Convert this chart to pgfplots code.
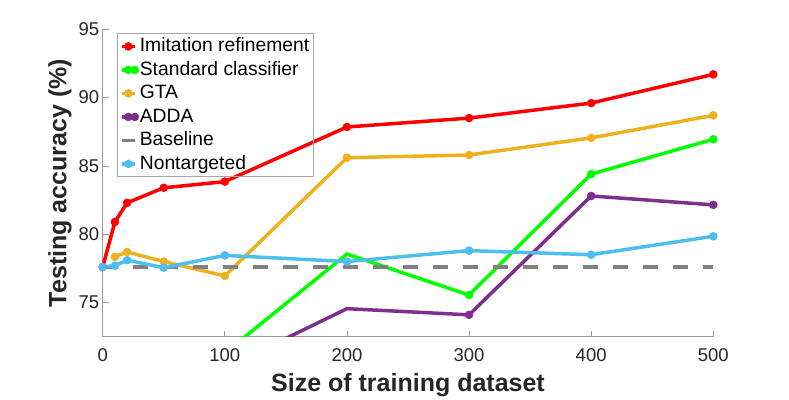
\documentclass[border=0pt]{standalone}
\usepackage{fontspec}
\setmainfont{Liberation Sans}
\usepackage{pgfplots}
\pgfplotsset{compat=1.18}
\definecolor{mred}{rgb}{1,0,0}
\definecolor{mgreen}{rgb}{0,1,0}
\definecolor{mgta}{RGB}{237,177,32}
\definecolor{madda}{RGB}{126,47,142}
\definecolor{mbase}{RGB}{128,128,128}
\definecolor{mcyan}{RGB}{77,190,238}
\definecolor{txt}{RGB}{38,38,38}
\begin{document}
\begin{tikzpicture}
\begin{axis}[
  scale only axis,
  width=610.6bp, height=307.4bp,
  xmin=0, xmax=500, ymin=72.5, ymax=95,
  axis lines*=left,
  axis line style={black!40, line width=0.8bp},
  tick align=inside,
  major tick length=6bp,
  tick style={black!40, line width=0.8bp},
  xtick={0,100,...,500}, ytick={75,80,...,95},
  /pgf/number format/assume math mode=true,
  ticklabel style={font=\fontsize{18.5bp}{22bp}\selectfont, text=txt},
  xticklabel style={yshift=-8bp},
  xlabel={Size of training dataset},
  ylabel={Testing accuracy (\%)},
  xlabel style={yshift=-5bp},
  label style={font=\fontsize{25bp}{30bp}\selectfont\bfseries, text=txt},
  every axis plot/.append style={line width=3.5bp, mark=*, mark size=4bp,
    mark options={line width=0.5bp}},
  legend cell align=left,
  legend image code/.code={\draw[mark repeat=2,mark phase=2,#1] plot coordinates {(0bp,0bp)(6.5bp,0bp)(13bp,0bp)};},
  legend style={at={(rel axis cs:0,1)}, anchor=north west, xshift=14bp, yshift=-4bp,
    draw=black!35, line width=0.8bp, fill=none, inner xsep=3bp, inner ysep=1bp,
    font=\fontsize{19.3bp}{23bp}\selectfont, text=black, row sep=0bp,
    nodes={inner ysep=1.5bp, inner xsep=1bp, text height=15.5bp, text depth=5bp}},
]
\coordinate (o) at (rel axis cs:0,0);
\addplot[mred] coordinates {
  (0,77.6) (10,80.9) (20,82.3) (50,83.4) (100,83.85)
  (200,87.85) (300,88.5) (400,89.6) (500,91.7)};
\addlegendentry{Imitation refinement}
\addplot[mgreen, mark indices={2,3,4,5}] coordinates {
  (100,71.3) (200,78.55) (300,75.55) (400,84.4) (500,86.95)};
\addlegendentry{Standard classifier}
\addplot[mgta] coordinates {
  (10,78.35) (20,78.7) (50,78.0) (100,76.95)
  (200,85.6) (300,85.8) (400,87.05) (500,88.7)};
\addlegendentry{GTA}
\addplot[madda, mark indices={2,3,4,5}] coordinates {
  (100,70.2) (200,74.55) (300,74.1) (400,82.8) (500,82.15)};
\addlegendentry{ADDA}
\addplot[mbase, no markers, dash pattern=on 15bp off 15bp] coordinates {
  (0,77.6) (500,77.6)};
\addlegendentry{Baseline}
\addplot[mcyan] coordinates {
  (0,77.6) (10,77.7) (20,78.1) (50,77.55) (100,78.45)
  (200,78.0) (300,78.8) (400,78.5) (500,79.85)};
\addlegendentry{Nontargeted}
\end{axis}
\path (o) ++(-102.7bp,-59.3bp) rectangle ++(789bp,396bp);
\end{tikzpicture}
\end{document}
